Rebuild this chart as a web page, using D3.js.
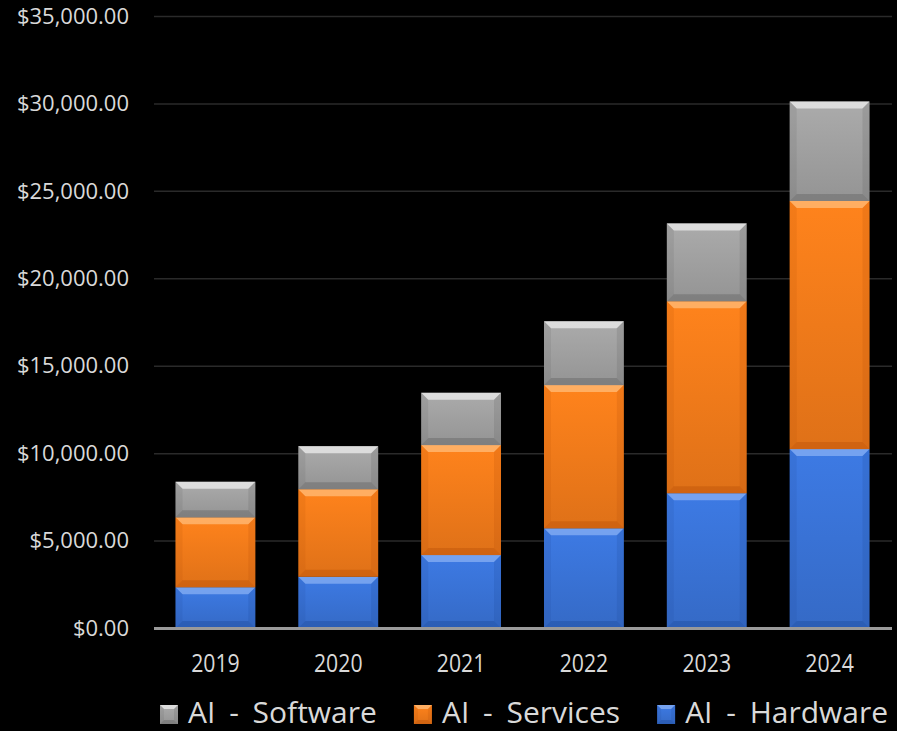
<!DOCTYPE html>
<html>
<head>
<meta charset="utf-8">
<style>
  body { margin: 0; background: #000; }
  svg { display: block; }
</style>
</head>
<body>
  <svg id="svg" width="897" height="731"></svg>

  <script src="https://cdn.jsdelivr.net/npm/d3@7/dist/d3.min.js"></script>
  <script type="text/javascript">
  // values
  let years = ["2019", "2020", "2021", "2022", "2023", "2024"];
  let hardware = [2330, 2930, 4170, 5700, 7710, 10230];
  let services = [4000, 5010, 6290, 8190, 10980, 14190];
  let software = [2030, 2460, 2990, 3650, 4450, 5690];
  let seriesNames = ["AI - Hardware", "AI - Services", "AI - Software"];
  let yTicks = [0, 5000, 10000, 15000, 20000, 25000, 30000, 35000];

  let colors = {
    "AI - Hardware": {base: "#3b76dc", light: "#8db4f5", dark: "#1f4a9a"},
    "AI - Services": {base: "#f87e1b", light: "#ffc080", dark: "#b85008"},
    "AI - Software": {base: "#a5a5a5", light: "#f2f2f2", dark: "#606060"}
  };

  let W = 897, H = 731;
  let m = {left: 154, right: 6, top: 16, bottom: 103};
  let svg = d3.select("#svg");
  let defs = svg.append("defs");
  let font = "'Open Sans', 'Noto Sans', sans-serif";

  let x = d3.scaleBand().domain(years).range([m.left, W - m.right]).paddingInner(0.35).paddingOuter(0.175);
  let y = d3.scaleLinear().domain([0, 35000]).range([H - m.bottom, m.top]);

  // gradients per series
  seriesNames.forEach((s, i) => {
    let c = colors[s];
    let g = defs.append("linearGradient").attr("id", "g" + i)
      .attr("x1", 0).attr("y1", 0).attr("x2", 0).attr("y2", 1);
    g.append("stop").attr("offset", "0%").attr("stop-color", d3.color(c.base).brighter(0.1));
    g.append("stop").attr("offset", "100%").attr("stop-color", d3.color(c.base).darker(0.3));
  });

  // gridlines
  svg.append("g").selectAll("line").data(yTicks.slice(1)).join("line")
    .attr("x1", m.left).attr("x2", W - m.right + 1)
    .attr("y1", d => y(d) + 0.5).attr("y2", d => y(d) + 0.5)
    .attr("stroke", "#2a2a2a").attr("stroke-width", 1.5);

  // y axis labels
  let fmt = d3.format("$,.2f");
  svg.append("g").selectAll("text").data(yTicks).join("text")
    .attr("x", 129).attr("y", d => y(d))
    .attr("dy", "0.35em")
    .attr("text-anchor", "end")
    .attr("fill", "#d9d9d9").attr("font-family", font).attr("font-size", 22)
    .text(d => fmt(d));

  // stacked data
  let rows = years.map((yr, i) => ({
    year: yr,
    "AI - Hardware": hardware[i],
    "AI - Services": services[i],
    "AI - Software": software[i]
  }));
  let stack = d3.stack().keys(seriesNames)(rows);

  function bevel(g, x0, y0, w, h, c, gi, bw) {
    let b = Math.min(bw, h / 2, w / 2);
    let x1 = x0 + w, y1 = y0 + h;
    g.append("rect").attr("x", x0).attr("y", y0).attr("width", w).attr("height", h)
      .attr("fill", "url(#g" + gi + ")");
    let poly = (pts, fill, op) => g.append("polygon")
      .attr("points", pts.map(p => p.join(",")).join(" "))
      .attr("fill", fill).attr("opacity", op);
    // top
    poly([[x0, y0], [x1, y0], [x1 - b, y0 + b], [x0 + b, y0 + b]], c.light, 0.7);
    // left
    poly([[x0, y0], [x0 + b, y0 + b], [x0 + b, y1 - b], [x0, y1]], c.dark, 0.15);
    // right
    poly([[x1, y0], [x1, y1], [x1 - b, y1 - b], [x1 - b, y0 + b]], c.dark, 0.2);
    // bottom
    poly([[x0, y1], [x0 + b, y1 - b], [x1 - b, y1 - b], [x1, y1]], c.dark, 0.4);
  }

  stack.forEach((layer, gi) => {
    let c = colors[layer.key];
    let lg = svg.append("g").attr("class", "series");
    layer.forEach(d => {
      let x0 = x(d.data.year), w = x.bandwidth();
      let y0 = y(d[1]), h = y(d[0]) - y(d[1]);
      bevel(lg, x0, y0, w, h, c, gi, 7);
    });
  });

  // baseline
  svg.append("line")
    .attr("x1", m.left).attr("x2", W - m.right + 1)
    .attr("y1", y(0) + 0.5).attr("y2", y(0) + 0.5)
    .attr("stroke", "#9a9a9a").attr("stroke-width", 3);

  // x labels
  svg.append("g").selectAll("text").data(years).join("text")
    .attr("transform", d => `translate(${x(d) + x.bandwidth() / 2},672) scale(0.85,1)`)
    .attr("text-anchor", "middle")
    .attr("fill", "#d9d9d9").attr("font-family", font).attr("font-size", 25)
    .text(d => d);

  // legend (reverse order, like the picture)
  let legendKeys = seriesNames.slice().reverse();
  let lgd = svg.append("g");
  let cx = 160;
  legendKeys.forEach((k, i) => {
    let gi = seriesNames.indexOf(k);
    let it = lgd.append("g");
    bevel(it, cx, 705, 18, 19, colors[k], gi, 4);
    let t = it.append("text").attr("x", cx + 28).attr("y", 723)
      .attr("fill", "#d9d9d9").attr("font-family", font).attr("font-size", 30)
      .attr("word-spacing", 6)
      .text(k);
    cx += 28 + t.node().getComputedTextLength() + 37;
  });
  </script>
</body>
</html>
